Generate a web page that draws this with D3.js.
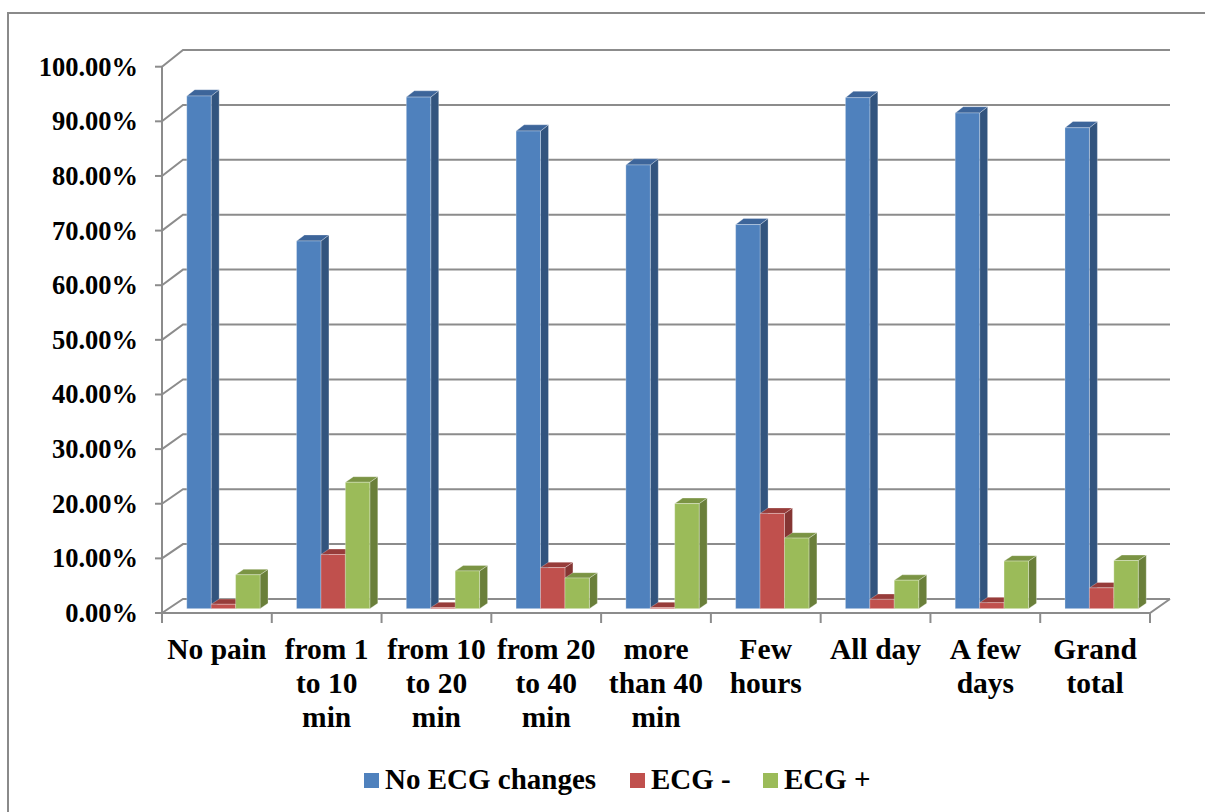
<!DOCTYPE html>
<html>
<head>
<meta charset="utf-8">
<script src="https://cdn.jsdelivr.net/npm/d3@7"></script>
<style>
  body { margin: 0; background: #fff; }
  text { font-family: "Liberation Serif", "Times New Roman", Times, "DejaVu Serif", serif; font-weight: bold; }
</style>
</head>
<body>
<script>
const categories = [
  ["No pain"],
  ["from 1", "to 10", "min"],
  ["from 10", "to 20", "min"],
  ["from 20", "to 40", "min"],
  ["more", "than 40", "min"],
  ["Few", "hours"],
  ["All day"],
  ["A few", "days"],
  ["Grand", "total"],
]
const seriesNames = ["No ECG changes", "ECG -", "ECG +"]
const noChange = [93.7, 67.2, 93.5, 87.3, 81.1, 70.2, 93.4, 90.6, 87.9]
const ecgMinus = [0.8, 9.9, 0.2, 7.5, 0.2, 17.4, 1.7, 1.1, 3.8]
const ecgPlus = [6.2, 23.1, 6.9, 5.6, 19.2, 12.9, 5.2, 8.7, 8.8]
const yTicks = [0, 10, 20, 30, 40, 50, 60, 70, 80, 90, 100]

const colors = [
  {front: "#4f81bd", side: "#32547e", top: "#3d659a"},
  {front: "#c0504d", side: "#853533", top: "#973c3a"},
  {front: "#9bbb59", side: "#6a7f3a", top: "#7b9444"},
]

function drawChart() {
  const dimensions = {
    width: 1205,
    height: 812,
    front: {left: 162, right: 1150, bottom: 613, top: 66.7},
    back: {left: 183, bottom: 599, top: 50},
  }
  const depthX = dimensions.back.left - dimensions.front.left
  const barDepth = [0.31, 0.69]
  const fontFamily = "'Liberation Serif', 'Times New Roman', Times, 'DejaVu Serif', serif"

  const svg = d3.select("body")
    .append("svg")
      .attr("width", dimensions.width)
      .attr("height", dimensions.height)
      .style("display", "block")

  // outer frame
  svg.append("path")
    .attr("d", "M8,812 L8,13 L1210,13")
    .attr("fill", "none")
    .attr("stroke", "#8a8a8a")
    .attr("stroke-width", 2)

  // scales
  const xScale = d3.scaleBand()
    .domain(d3.range(categories.length))
    .range([dimensions.front.left, dimensions.front.right])
    .paddingInner(0)
    .paddingOuter(0)

  const groupPad = 18.25
  const xInner = d3.scaleBand()
    .domain(d3.range(seriesNames.length))
    .range([groupPad, xScale.bandwidth() - groupPad])

  const yFront = d3.scaleLinear()
    .domain([0, 100])
    .range([dimensions.front.bottom, dimensions.front.top])
  const yBack = d3.scaleLinear()
    .domain([0, 100])
    .range([dimensions.back.bottom, dimensions.back.top])
  const yAt = (v, f) => yFront(v) * (1 - f) + yBack(v) * f

  const grid = svg.append("g")
    .attr("stroke", "#8c8c8c")
    .attr("stroke-width", 2)
    .attr("fill", "none")

  // back wall gridlines + left wall diagonals
  yTicks.forEach(t => {
    grid.append("path")
      .attr("d", `M${dimensions.front.left},${yFront(t)} L${dimensions.back.left},${yBack(t)} L${dimensions.front.right + depthX - 1},${yBack(t)}`)
    grid.append("line")
      .attr("x1", dimensions.front.left - 7).attr("x2", dimensions.front.left)
      .attr("y1", yFront(t)).attr("y2", yFront(t))
  })

  // vertical axis
  grid.append("line")
    .attr("x1", dimensions.front.left).attr("x2", dimensions.front.left)
    .attr("y1", yFront(100)).attr("y2", yFront(0))

  // floor edges
  grid.append("path")
    .attr("d", `M${dimensions.front.left},${yFront(0)} L${dimensions.front.right},${yFront(0)} L${dimensions.front.right + depthX - 1},${yBack(0)}`)

  // category ticks
  d3.range(categories.length + 1).forEach(i => {
    const x = dimensions.front.left + i * xScale.bandwidth()
    grid.append("line")
      .attr("x1", x).attr("x2", x)
      .attr("y1", yFront(0)).attr("y2", yFront(0) + 10)
  })

  // bars
  const series = [noChange, ecgMinus, ecgPlus]
  const bars = svg.append("g")
  categories.forEach((c, i) => {
    series.forEach((vals, s) => {
      const v = vals[i]
      const x0 = xScale(i) + xInner(s) + depthX * barDepth[0]
      const x1 = x0 + xInner.bandwidth()
      const dx = depthX * (barDepth[1] - barDepth[0])
      const yT = yAt(v, barDepth[0])
      const yB = yAt(0, barDepth[0])
      const yT2 = yAt(v, barDepth[1])
      const yB2 = yAt(0, barDepth[1])
      const g = bars.append("g")
        .attr("stroke", "rgba(255,255,255,0.35)")
        .attr("stroke-width", 0.8)
        .attr("stroke-linejoin", "round")
      g.append("path")
        .attr("d", `M${x1},${yT} L${x1 + dx},${yT2} L${x1 + dx},${yB2} L${x1},${yB}Z`)
        .attr("fill", colors[s].side)
      g.append("path")
        .attr("d", `M${x0},${yT} L${x1},${yT} L${x1 + dx},${yT2} L${x0 + dx},${yT2}Z`)
        .attr("fill", colors[s].top)
      g.append("rect")
        .attr("x", x0)
        .attr("y", yT)
        .attr("width", x1 - x0)
        .attr("height", yB - yT)
        .attr("fill", colors[s].front)
    })
  })

  // y labels
  svg.append("g")
    .selectAll("text")
    .data(yTicks)
    .join("text")
      .attr("x", 138)
      .attr("y", d => yFront(d))
      .attr("dy", "0.34em")
      .attr("text-anchor", "end")
      .attr("font-family", fontFamily)
      .attr("font-weight", "bold")
      .attr("font-size", 26.5)
      .text(d => d.toFixed(2) + "%")

  // category labels
  const catLabels = svg.append("g")
    .selectAll("text")
    .data(categories)
    .join("text")
      .attr("text-anchor", "middle")
      .attr("font-family", fontFamily)
      .attr("font-weight", "bold")
      .attr("font-size", 29.5)
  catLabels.selectAll("tspan")
    .data((d, i) => d.map(line => ({line, i})))
    .join("tspan")
      .attr("x", d => xScale(d.i) + xScale.bandwidth() / 2)
      .attr("y", (d, j) => 659 + j * 34)
      .text(d => d.line)

  // legend
  const legendX = [364, 630, 763]
  const legend = svg.append("g")
  seriesNames.forEach((name, s) => {
    legend.append("rect")
      .attr("x", legendX[s]).attr("y", 773)
      .attr("width", 15).attr("height", 15)
      .attr("fill", colors[s].front)
    legend.append("text")
      .attr("x", legendX[s] + 21)
      .attr("y", 789)
      .attr("font-family", fontFamily)
      .attr("font-weight", "bold")
      .attr("font-size", 29)
      .text(name)
  })
}
drawChart()
</script>
</body>
</html>
